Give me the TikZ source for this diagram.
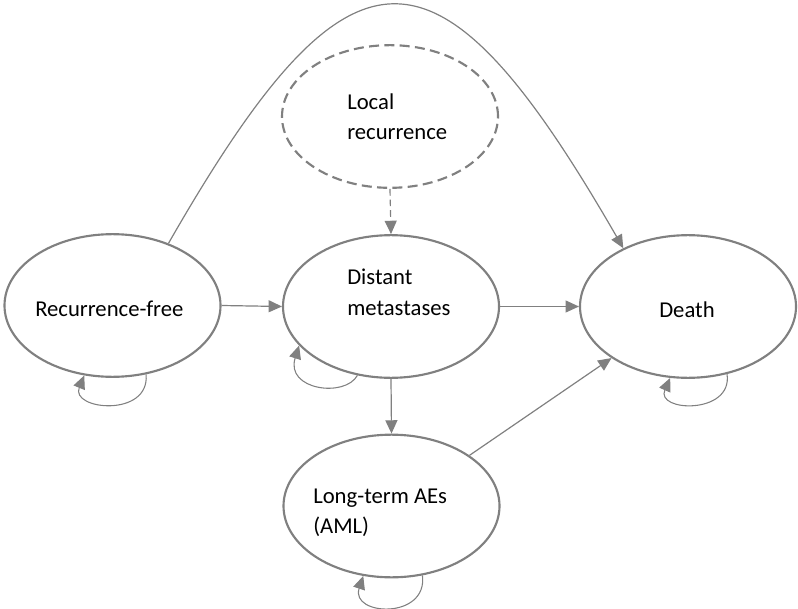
\documentclass[tikz,border=0pt]{standalone}
\usepackage{fontspec}
\setmainfont{Carlito}
\usetikzlibrary{arrows.meta,shapes.geometric}
\definecolor{lgray}{RGB}{128,128,128}
\begin{document}
\begin{tikzpicture}[x=0.75pt,y=-0.75pt,
  state/.style={ellipse,draw=lgray,line width=1.6pt,minimum width=162pt,minimum height=107pt,inner sep=0pt,fill=white},
  dstate/.style={state,dash pattern=on 7.5pt off 4pt},
  lbl/.style={anchor=base west,inner sep=0pt,font=\fontsize{17}{22.5}\selectfont},
  conn/.style={draw=lgray,line width=0.9pt,-{Triangle[length=10pt,width=9pt]},color=lgray},
  loopc/.style={draw=lgray,line width=0.8pt,-{Triangle[length=10pt,width=9pt]},color=lgray}
]
\useasboundingbox (0,0) rectangle (798,609);
% states
\node[state]  (RF) at (112.5,305.5) {};
\node[state]  (DM) at (391,306.5) {};
\node[state]  (DE) at (688,306.5) {};
\node[state]  (AE) at (391.5,506) {};
\node[dstate] (LR) at (390,116.5) {};
% labels
\node[lbl] (RFt) at (35,316) {Recurrence-free};
\node[lbl] (DMt) at (347,285) {\begin{tabular}[t]{@{}l@{}}Distant\\metastases\end{tabular}};
\node[lbl] (DEt) at (659,317) {Death};
\node[lbl] (AEt) at (313,503) {\begin{tabular}[t]{@{}l@{}}Long-term AEs\\(AML)\end{tabular}};
\node[lbl] (LRt) at (347,110) {\begin{tabular}[t]{@{}l@{}}Local\\recurrence\end{tabular}};
% connectors
\draw[conn] (RF.east) -- (DM.west);
\draw[conn] (DM.east) -- (DE.west);
\draw[conn,dash pattern=on 5pt off 3pt] (LR.south) -- (DM.north);
\draw[conn] (DM.south) -- (AE.north);
\draw[conn] (AE.33) -- (DE.214);
\draw[conn] (RF.48) .. controls (351,-75) and (437,-75) .. (DE.138);
% self loops
\draw[loopc] (RF.296) .. controls (150,418) and (70,410) .. (RF.248);
\draw[loopc] (DM.244) .. controls (345,398) and (285,390) .. (DM.203);
\draw[loopc] (DE.300) .. controls (733,415) and (655,412) .. (DE.256);
\draw[loopc] (AE.294) .. controls (428,620) and (350,616) .. (AE.248);
\end{tikzpicture}
\end{document}
